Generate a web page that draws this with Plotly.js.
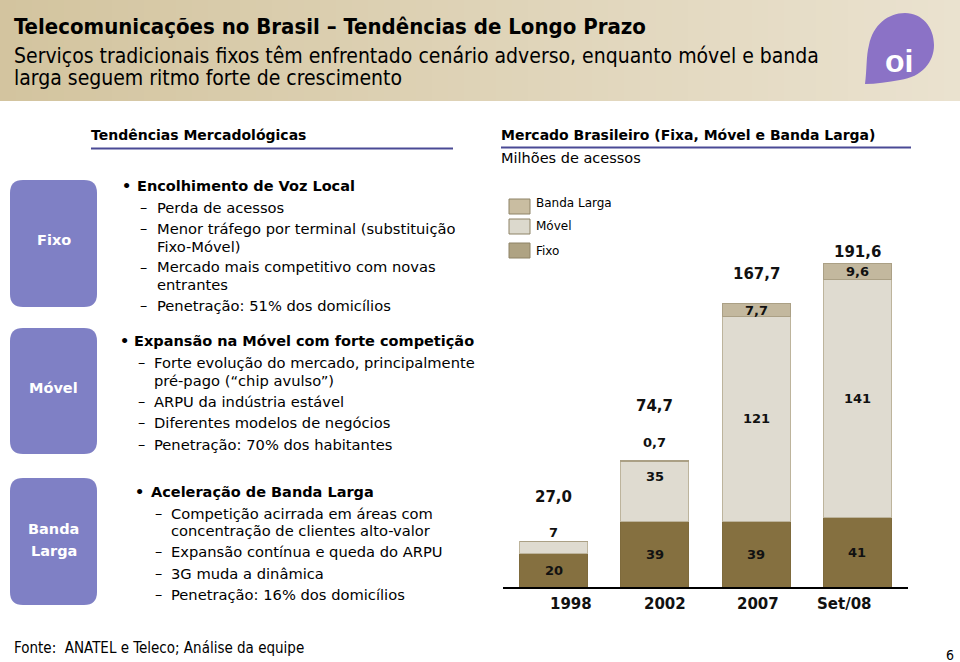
<!DOCTYPE html>
<html>
<head>
<meta charset="utf-8">
<script src="https://cdn.plot.ly/plotly-3.0.1.min.js"></script>
<style>
  html, body { margin: 0; padding: 0; background: #ffffff; }
  #chart { width: 960px; height: 662px; }
</style>
</head>
<body>
<div id="chart"></div>
<script>
// ---------- DATA ----------
const categories = ['1998', '2002', '2007', 'Set/08'];
const fixo = [20, 39, 39, 41];
const movel = [7, 35, 121, 141];
const bandaLarga = [0, 0.7, 7.7, 9.6];
const totais = [27.0, 74.7, 167.7, 191.6];
const seriesNames = ['Fixo', 'Móvel', 'Banda Larga'];

const titleText = 'Telecomunicações no Brasil – Tendências de Longo Prazo';
const subtitleLines = ['Serviços tradicionais fixos têm enfrentado cenário adverso, enquanto móvel e banda',
                       'larga seguem ritmo forte de crescimento'];
const leftHeader = 'Tendências Mercadológicas';
const rightHeader = 'Mercado Brasileiro (Fixa, Móvel e Banda Larga)';
const unitText = 'Milhões de acessos';
const sourceText = 'Fonte:  ANATEL e Teleco; Análise da equipe';
const pageNumber = '6';

const sections = [
  {label: ['Fixo'], head: 'Encolhimento de Voz Local',
   items: [['Perda de acessos'], ['Menor tráfego por terminal (substituição', 'Fixo-Móvel)'],
           ['Mercado mais competitivo com novas', 'entrantes'], ['Penetração: 51% dos domicílios']]},
  {label: ['Móvel'], head: 'Expansão na Móvel com forte competição',
   items: [['Forte evolução do mercado, principalmente', 'pré-pago (“chip avulso”)'],
           ['ARPU da indústria estável'], ['Diferentes modelos de negócios'],
           ['Penetração: 70% dos habitantes']]},
  {label: ['Banda', 'Larga'], head: 'Aceleração de Banda Larga',
   items: [['Competição acirrada em áreas com', 'concentração de clientes alto-valor'],
           ['Expansão contínua e queda do ARPU'], ['3G muda a dinâmica'],
           ['Penetração: 16% dos domicílios']]}
];

// ---------- HELPERS ----------
const W = 960, H = 662;
const X = x => x / W;
const Y = y => 1 - y / H;
const fmt = (v, d) => v.toFixed(d).replace('.', ',');

const BODY = 'DejaVu Sans, Verdana, sans-serif';
const TAHOMA = 'DejaVu Sans Condensed, Liberation Sans, Arial, sans-serif';

const annotations = [];
const shapes = [];

function txt(x, y, text, size, opts) {
  opts = opts || {};
  annotations.push({
    xref: 'paper', yref: 'paper', x: X(x), y: Y(y),
    xanchor: opts.xanchor || 'left', yanchor: 'middle',
    showarrow: false, text: text,
    font: {family: opts.family || BODY, size: size, color: opts.color || '#000000',
           weight: opts.bold ? 'bold' : 'normal'}
  });
}

function roundRect(x0, y0, x1, y1, r) {
  const p = (a, b) => X(a) + ',' + Y(b);
  return 'M' + p(x0 + r, y0) + ' L' + p(x1 - r, y0) + ' Q' + p(x1, y0) + ' ' + p(x1, y0 + r) +
         ' L' + p(x1, y1 - r) + ' Q' + p(x1, y1) + ' ' + p(x1 - r, y1) +
         ' L' + p(x0 + r, y1) + ' Q' + p(x0, y1) + ' ' + p(x0, y1 - r) +
         ' L' + p(x0, y0 + r) + ' Q' + p(x0, y0) + ' ' + p(x0 + r, y0) + ' Z';
}

// ---------- HEADER BAND (horizontal gradient) ----------
const c0 = [211, 196, 159], c1 = [234, 226, 207];
const nStripes = 60;
for (let i = 0; i < nStripes; i++) {
  const t = i / (nStripes - 1);
  const c = c0.map((v, k) => Math.round(v + (c1[k] - v) * t));
  shapes.push({type: 'rect', xref: 'paper', yref: 'paper', layer: 'below',
    x0: X(i * W / nStripes), x1: X((i + 1) * W / nStripes + 0.5), y0: Y(101), y1: Y(0),
    fillcolor: 'rgb(' + c.join(',') + ')', line: {width: 0}});
}

// logo bubble
(function () {
  const p = (a, b) => X(a) + ',' + Y(b);
  const path = 'M' + p(865, 84) + ' C' + p(867, 70) + ' ' + p(866, 56) + ' ' + p(869, 45) +
    ' C' + p(873, 25) + ' ' + p(888, 13) + ' ' + p(905, 13) +
    ' C' + p(922, 13) + ' ' + p(934, 27) + ' ' + p(934, 45) +
    ' C' + p(934, 62) + ' ' + p(922, 77) + ' ' + p(900, 80) +
    ' C' + p(888, 82) + ' ' + p(876, 84) + ' ' + p(865, 84) + ' Z';
  shapes.push({type: 'path', xref: 'paper', yref: 'paper', path: path,
    fillcolor: '#8B72C6', line: {width: 0}});
})();
txt(899, 61, 'oi', 32, {xanchor: 'center', color: '#ffffff', bold: true, family: 'Liberation Sans, Arial, sans-serif'});

txt(12, 26, titleText, 22, {bold: true, family: TAHOMA});
txt(12, 56, subtitleLines[0], 21, {family: TAHOMA});
txt(12, 78, subtitleLines[1], 21, {family: TAHOMA});

// ---------- SECTION HEADERS ----------
txt(89, 135, leftHeader, 14, {bold: true});
shapes.push({type: 'line', xref: 'paper', yref: 'paper', x0: X(91), x1: X(453), y0: Y(148.5), y1: Y(148.5),
  line: {color: '#4A4A95', width: 2}});
txt(499, 135, rightHeader, 14, {bold: true});
shapes.push({type: 'line', xref: 'paper', yref: 'paper', x0: X(501), x1: X(911), y0: Y(147.5), y1: Y(147.5),
  line: {color: '#4A4A95', width: 2}});
txt(499, 158, unitText, 14.5);

// ---------- LEFT PANEL ----------
const boxY = [[180, 307], [328, 454], [478, 605]];
const labelY = [[240], [388], [529, 551]];
const bulletX = [120, 118, 133];   // bullet dot
const headX = [135, 132, 149];      // bold head
const dashX = [138, 136, 153];      // dash
const itemX = [155, 152, 169];      // item text
const headY = [186, 341, 492];
const lineYs = [[207, 228, 247, 267, 284, 305], [362, 380, 401, 422, 444], [513, 530, 551, 573, 594]];

sections.forEach((s, i) => {
  shapes.push({type: 'path', xref: 'paper', yref: 'paper', path: roundRect(10, boxY[i][0], 97, boxY[i][1], 13),
    fillcolor: '#7F80C5', line: {width: 0}});
  s.label.forEach((l, j) => txt(53.5, labelY[i][j], l, 14.5, {xanchor: 'center', color: '#ffffff', bold: true}));
  txt(bulletX[i], headY[i], '•', 14.5, {bold: true});
  txt(headX[i], headY[i], s.head, 14.5, {bold: true});
  let k = 0;
  s.items.forEach(item => {
    item.forEach((line, j) => {
      if (j === 0) txt(dashX[i], lineYs[i][k], '–', 14.5);
      txt(itemX[i], lineYs[i][k], line, 14.7);
      k++;
    });
  });
});

// ---------- FOOTER ----------
txt(12, 648, sourceText, 15, {family: TAHOMA});
txt(956, 655, pageNumber, 14, {xanchor: 'right', family: TAHOMA});

// ---------- CHART ----------
const colFixo = '#857040', colMovel = '#DFDBD0', colBL = '#C3B89E';
const traces = [
  {type: 'bar', name: seriesNames[0], x: categories, y: fixo,
   marker: {color: colFixo, line: {color: '#7E6A3C', width: 1}}, hoverinfo: 'skip'},
  {type: 'bar', name: seriesNames[1], x: categories, y: movel,
   marker: {color: colMovel, line: {color: '#BDB49C', width: 1}}, hoverinfo: 'skip'},
  {type: 'bar', name: seriesNames[2], x: categories, y: bandaLarga,
   marker: {color: colBL, line: {color: '#ABA085', width: 1}}, hoverinfo: 'skip'}
];

// custom legend (order: Banda Larga, Móvel, Fixo)
const legendRows = [
  {name: seriesNames[2], fill: '#C9BDA1', y0: 199, y1: 214, ty: 203},
  {name: seriesNames[1], fill: '#DCD9CD', y0: 219, y1: 234, ty: 226},
  {name: seriesNames[0], fill: '#AFA383', y0: 243, y1: 258, ty: 251}
];
legendRows.forEach(r => {
  shapes.push({type: 'rect', xref: 'paper', yref: 'paper', x0: X(509), x1: X(530), y0: Y(r.y1), y1: Y(r.y0),
    fillcolor: r.fill, line: {color: '#8E8366', width: 1}});
  txt(534, r.ty, r.name, 12);
});

// category positions on a category axis are addressed by index
const segFont = {family: BODY, size: 13, color: '#111111', weight: 'bold'};
const movelShift = [15, 15, 0, 0];
const blShift = [0, 19, 0, 0];
const totalShift = [44, 55, 30, 11];
categories.forEach((c, i) => {
  annotations.push({xref: 'x', yref: 'y', x: i, y: fixo[i] / 2, text: fmt(fixo[i], 0),
    showarrow: false, font: segFont, yanchor: 'middle'});
  annotations.push({xref: 'x', yref: 'y', x: i, y: fixo[i] + movel[i] / 2, yshift: movelShift[i],
    text: fmt(movel[i], 0), showarrow: false, font: segFont, yanchor: 'middle'});
  if (bandaLarga[i] > 0) {
    annotations.push({xref: 'x', yref: 'y', x: i, y: fixo[i] + movel[i] + bandaLarga[i] / 2, yshift: blShift[i],
      text: fmt(bandaLarga[i], 1), showarrow: false, font: segFont, yanchor: 'middle'});
  }
  annotations.push({xref: 'x', yref: 'y', x: i, y: totais[i], yshift: totalShift[i],
    text: fmt(totais[i], 1), showarrow: false, yanchor: 'middle',
    font: {family: BODY, size: 15, color: '#111111', weight: 'bold'}});
});
const catShift = [17, 10, 2, -13];
categories.forEach((c, i) => {
  annotations.push({xref: 'x', yref: 'paper', x: i, y: Y(604), xshift: catShift[i], yanchor: 'middle',
    text: c, showarrow: false, font: {family: BODY, size: 15, color: '#111111', weight: 'bold'}});
});

const layout = {
  width: W, height: H,
  margin: {l: 0, r: 0, t: 0, b: 0, pad: 0},
  paper_bgcolor: '#ffffff', plot_bgcolor: 'rgba(0,0,0,0)',
  showlegend: false,
  barmode: 'stack', bargap: 0.33,
  xaxis: {type: 'category', domain: [X(503), X(908)], range: [-0.5, 3.5],
    showline: true, linecolor: '#000000', linewidth: 2, showgrid: false, zeroline: false,
    showticklabels: false, ticks: '', fixedrange: true},
  yaxis: {domain: [Y(587), Y(249)], range: [0, 200], visible: false, showgrid: false,
    zeroline: false, fixedrange: true},
  shapes: shapes,
  annotations: annotations
};

Plotly.newPlot('chart', traces, layout, {staticPlot: true, displayModeBar: false});
</script>
</body>
</html>
